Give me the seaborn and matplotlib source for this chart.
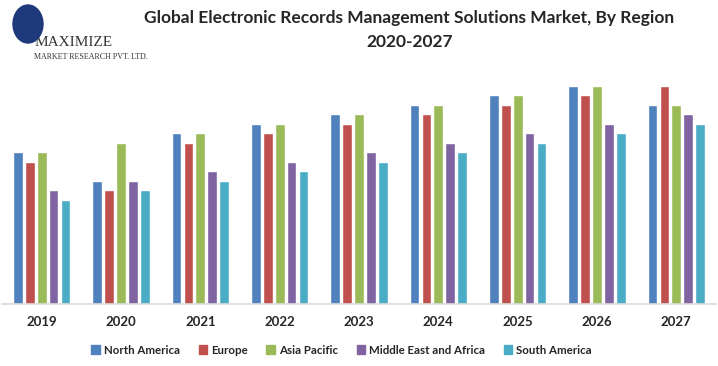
import numpy as np
import pandas as pd
import matplotlib.pyplot as plt
import seaborn as sns
from matplotlib.patches import Ellipse, Rectangle

years = ["2019", "2020", "2021", "2022", "2023", "2024", "2025", "2026", "2027"]
regions = ["North America", "Europe", "Asia Pacific", "Middle East and Africa", "South America"]
north_america = [16, 13, 18, 19, 20, 21, 22, 23, 21]
europe = [15, 12, 17, 18, 19, 20, 21, 22, 23]
asia_pacific = [16, 17, 18, 19, 20, 21, 22, 23, 21]
mea = [12, 13, 14, 15, 16, 17, 18, 19, 20]
south_america = [11, 12, 13, 14, 15, 16, 17, 18, 19]
colors = ["#4F81BD", "#C0504D", "#9BBB59", "#8064A2", "#4BACC6"]

series = [north_america, europe, asia_pacific, mea, south_america]
rows = []
for reg, vals in zip(regions, series):
    for yr, v in zip(years, vals):
        rows.append({"year": yr, "region": reg, "value": v})
df = pd.DataFrame(rows)

sns.set_theme(style="white")
plt.rcParams["font.family"] = ["Lato", "DejaVu Sans"]

fig = plt.figure(figsize=(7.18, 3.66), dpi=100)
ax = fig.add_axes([2 / 718, 62 / 366, 714 / 718, 237.5 / 366])

sns.barplot(data=df, x="year", y="value", hue="region", palette=colors,
            width=0.75, gap=0.18, saturation=1, ax=ax, legend=False)

ax.set_ylim(0, 25)
ax.set_xlim(-0.5, 8.5)
ax.set_xlabel("")
ax.set_ylabel("")
ax.set_yticks([])
for s in ["top", "right", "left"]:
    ax.spines[s].set_visible(False)
ax.spines["bottom"].set_color("#d9d9d9")
ax.spines["bottom"].set_linewidth(1.2)
ax.tick_params(axis="x", length=0, pad=9, labelsize=9.5)
for lbl in ax.get_xticklabels():
    lbl.set_fontweight("bold")

handles = [Rectangle((0, 0), 1, 1, color=c) for c in colors]
fig.legend(handles, regions, loc="center", bbox_to_anchor=(0.476, 1 - 350 / 366),
           ncol=5, frameon=False, handlelength=0.75, handleheight=0.75,
           handletextpad=0.35, columnspacing=1.6,
           prop={"weight": "bold", "size": 8.3})

fig.text(0.57, 1 - 18 / 366, "Global Electronic Records Management Solutions Market, By Region",
         ha="center", va="center", fontsize=12.5, fontweight="bold")
fig.text(0.57, 1 - 42 / 366, "2020-2027", ha="center", va="center",
         fontsize=12.5, fontweight="bold")

# logo
fig.patches.append(Ellipse((28 / 718, 1 - 24 / 366), 30 / 718, 38 / 366,
                           transform=fig.transFigure, color="#1f3a7a", zorder=5))
fig.text(35 / 718, 1 - 43 / 366, "MAXIMIZE", family="Liberation Serif",
         fontsize=11, color="#333333", va="center", ha="left")
fig.text(34 / 718, 1 - 57 / 366, "MARKET RESEARCH PVT. LTD.", family="Liberation Serif",
         fontsize=5.8, color="#333333", va="center", ha="left")

fig.savefig("out.png", dpi=100)
